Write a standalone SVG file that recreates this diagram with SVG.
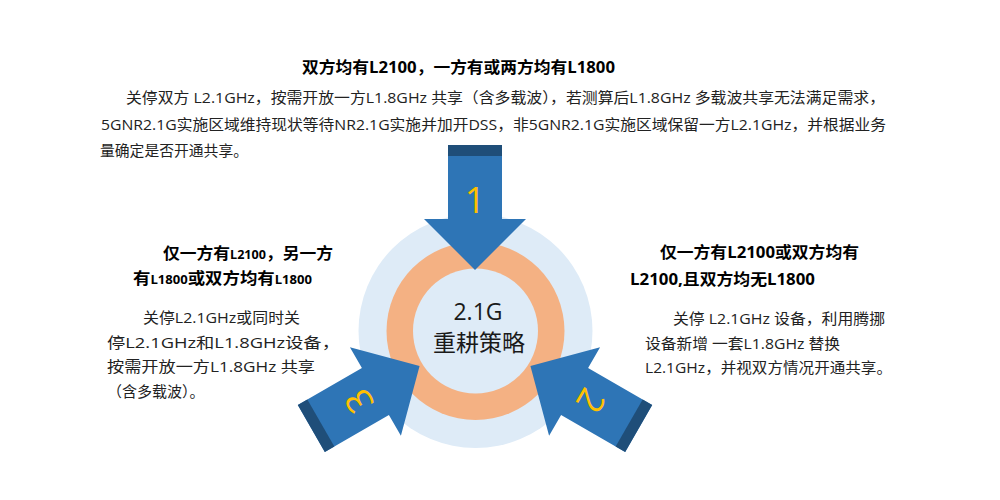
<svg xmlns="http://www.w3.org/2000/svg" width="1000" height="500" viewBox="0 0 1000 500">
  <style>
    text { font-family: "Open Sans", "Noto Sans CJK SC", sans-serif; }
    .h { font-size: 16px; font-weight: bold; fill: #000; }
    .b { font-size: 15px; fill: #222; }
    .sm { font-size: 12px; }
    .c { font-size: 23px; fill: #1a1a1a; text-anchor: middle; }
    .num { font-size: 36px; fill: #FFC000; text-anchor: middle; font-weight: normal; }
    .arrowBody { fill: #2E75B6; }
    .arrowCap { fill: #1F4E79; }
  </style>
  <defs>
    <g id="arrowShape">
      <polygon class="arrowBody" points="448,145 502,145 502,219 526,219 475,270 424,219 448,219"/>
      <rect class="arrowCap" x="448" y="145" width="54" height="11"/>
    </g>
  </defs>
  <rect width="1000" height="500" fill="#fff"/>

  <g id="hub">
    <circle cx="475.5" cy="331" r="117" fill="#DEEBF7"/>
    <circle cx="475.5" cy="331" r="89" fill="#F4B183"/>
    <circle cx="475.5" cy="331" r="62.5" fill="#DEEBF7"/>
    <text class="c" x="478" y="320">2.1G</text>
    <text class="c" x="479" y="351" textLength="92" lengthAdjust="spacingAndGlyphs">重耕策略</text>
  </g>

  <g id="connectors">
    <g id="arrow1">
      <use href="#arrowShape"/>
      <text class="num" x="475" y="213">1</text>
    </g>
    <g id="arrow2" transform="rotate(120 475 334)">
      <use href="#arrowShape"/>
      <text class="num" x="475" y="213">2</text>
    </g>
    <g id="arrow3" transform="rotate(-120 475 334)">
      <use href="#arrowShape"/>
      <text class="num" x="475" y="213">3</text>
    </g>
  </g>

  <g id="strategy1">
    <text class="h" x="302" y="73" textLength="313" lengthAdjust="spacingAndGlyphs">双方均有L2100，一方有或两方均有L1800</text>
    <text class="b" x="126" y="103" textLength="759" lengthAdjust="spacingAndGlyphs">关停双方 L2.1GHz，按需开放一方L1.8GHz 共享（含多载波），若测算后L1.8GHz 多载波共享无法满足需求，</text>
    <text class="b" x="101" y="129.5" textLength="785" lengthAdjust="spacingAndGlyphs">5GNR2.1G实施区域维持现状等待NR2.1G实施并加开DSS，非5GNR2.1G实施区域保留一方L2.1GHz，并根据业务</text>
    <text class="b" x="100" y="156" textLength="148" lengthAdjust="spacingAndGlyphs">量确定是否开通共享。</text>
  </g>

  <g id="strategy2">
    <text class="h" x="660" y="258" textLength="199" lengthAdjust="spacingAndGlyphs">仅一方有L2100或双方均有</text>
    <text class="h" x="630" y="284.5" textLength="185" lengthAdjust="spacingAndGlyphs">L2100,且双方均无L1800</text>
    <text class="b" x="673" y="324" textLength="212" lengthAdjust="spacingAndGlyphs">关停 L2.1GHz 设备，利用腾挪</text>
    <text class="b" x="645" y="349" textLength="195" lengthAdjust="spacingAndGlyphs">设备新增 一套L1.8GHz 替换</text>
    <text class="b" x="645" y="372.5" textLength="247" lengthAdjust="spacingAndGlyphs">L2.1GHz，并视双方情况开通共享。</text>
  </g>

  <g id="strategy3">
    <text class="h" x="163" y="258.5" textLength="170" lengthAdjust="spacingAndGlyphs">仅一方有<tspan class="sm">L2100</tspan>，另一方</text>
    <text class="h" x="133" y="284" textLength="179" lengthAdjust="spacingAndGlyphs">有<tspan class="sm">L1800</tspan>或双方均有<tspan class="sm">L1800</tspan></text>
    <text class="b" x="143" y="323" textLength="157" lengthAdjust="spacingAndGlyphs">关停L2.1GHz或同时关</text>
    <text class="b" x="107" y="348" textLength="233" lengthAdjust="spacingAndGlyphs">停L2.1GHz和L1.8GHz设备，</text>
    <text class="b" x="107" y="372" textLength="208" lengthAdjust="spacingAndGlyphs">按需开放一方L1.8GHz 共享</text>
    <text class="b" x="107" y="396.5">（含多载波）。</text>
  </g>
</svg>
